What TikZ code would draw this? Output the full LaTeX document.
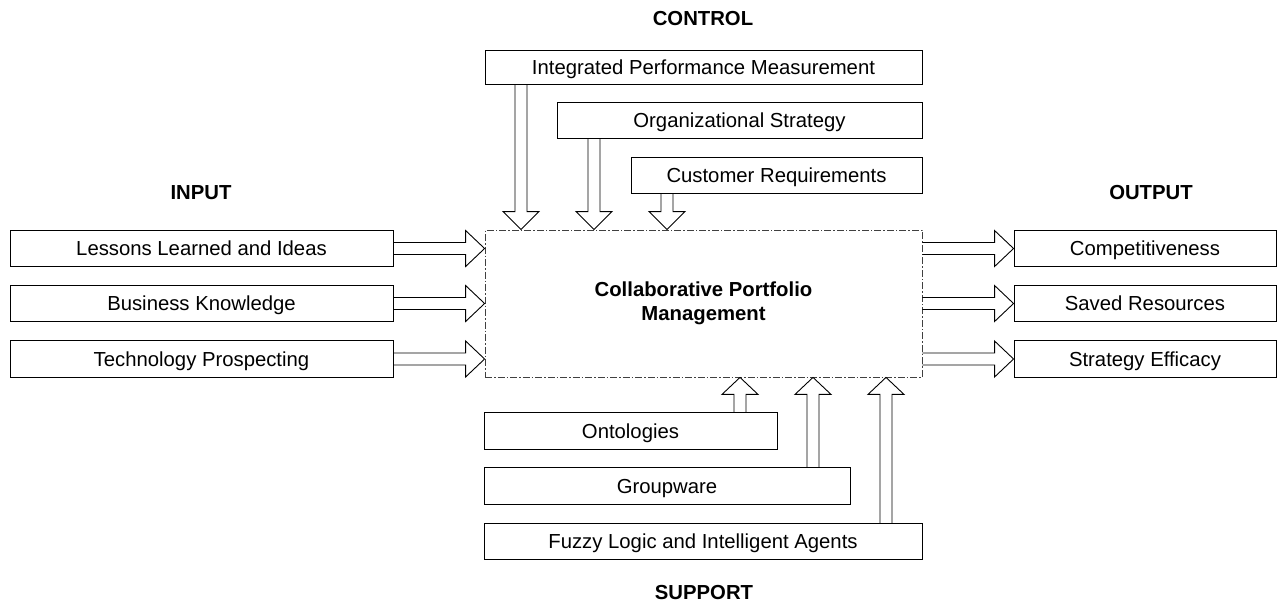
\documentclass[tikz,border=0pt]{standalone}
\usepackage{fontspec}
\setmainfont{Liberation Sans}
\usetikzlibrary{calc}

% hollow block arrows: #1 = base point, #2 = tip
\newcommand\blkright[2]{%
  \draw[blk] ($(#1)+(0,-6)$) -- ($(#2)+(-19,-6)$) -- ($(#2)+(-19,-18)$) -- (#2)
    -- ($(#2)+(-19,18)$) -- ($(#2)+(-19,6)$) -- ($(#1)+(0,6)$);}
\newcommand\blkdown[2]{%
  \draw[blk] ($(#1)+(-6,0)$) -- ($(#2)+(-6,-18)$) -- ($(#2)+(-18,-18)$) -- (#2)
    -- ($(#2)+(18,-18)$) -- ($(#2)+(6,-18)$) -- ($(#1)+(6,0)$);}
\newcommand\blkup[2]{%
  \draw[blk] ($(#1)+(-6,0)$) -- ($(#2)+(-6,17)$) -- ($(#2)+(-18,17)$) -- (#2)
    -- ($(#2)+(18,17)$) -- ($(#2)+(6,17)$) -- ($(#1)+(6,0)$);}

\begin{document}
\begin{tikzpicture}[x=1pt,y=-1pt,
  box/.style={draw, line width=0.9pt, minimum height=36.5pt, inner sep=0pt,
    text height=18pt, text depth=4pt,
    font=\fontsize{20.3}{24}\selectfont},
  blk/.style={line width=0.9pt, line join=miter},
  head/.style={font=\bfseries\fontsize{20.3}{24}\selectfont},
  core/.style={draw=black!75, line width=0.8pt,
    dash pattern=on 7pt off 2pt on 1.5pt off 2pt,
    minimum width=437pt, minimum height=147pt, inner sep=0pt,
    align=center, font=\bfseries\fontsize{20.3}{24}\selectfont}]
\useasboundingbox (0,0) rectangle (1286,606);

% central activity
\node[core] (cpm) at (703.5,303.5) {Collaborative Portfolio\\Management};

% section headings
\node[head] (hctl) at (703,19) {CONTROL};
\node[head] (hin)  at (201,193) {INPUT};
\node[head] (hout) at (1151,193) {OUTPUT};
\node[head] (hsup) at (704,593) {SUPPORT};

% inputs
\node[box, minimum width=383pt] (in1) at (201.5,248.5) {Lessons Learned and Ideas};
\node[box, minimum width=383pt] (in2) at (201.5,303.5) {Business Knowledge};
\node[box, minimum width=383pt] (in3) at (201.5,359)   {Technology Prospecting};

% outputs
\node[box, minimum width=262pt] (out1) at (1145,248.5) {Competitiveness};
\node[box, minimum width=262pt] (out2) at (1145,303.5) {Saved Resources};
\node[box, minimum width=262pt] (out3) at (1145,359)   {Strategy Efficacy};

% controls
\node[box, minimum width=437pt, minimum height=34pt] (ctl1) at (703.5,67)  {Integrated Performance Measurement};
\node[box, minimum width=365pt] (ctl2) at (739.5,120.5) {Organizational Strategy};
\node[box, minimum width=291pt] (ctl3) at (776.5,175.5) {Customer Requirements};

% supports
\node[box, minimum width=293pt] (sup1) at (630.5,431)   {Ontologies};
\node[box, minimum width=366pt] (sup2) at (667,486)     {Groupware};
\node[box, minimum width=438pt] (sup3) at (703,541.5)   {Fuzzy Logic and Intelligent Agents};

% arrow columns
\coordinate (xc1) at (521,0);
\coordinate (xc2) at (594,0);
\coordinate (xc3) at (667,0);
\coordinate (xs1) at (740,0);
\coordinate (xs2) at (813,0);
\coordinate (xs3) at (886,0);

% input arrows
\blkright{in1.east}{cpm.west |- in1.east}
\blkright{in2.east}{cpm.west |- in2.east}
\blkright{in3.east}{cpm.west |- in3.east}

% output arrows
\blkright{cpm.east |- out1.west}{out1.west}
\blkright{cpm.east |- out2.west}{out2.west}
\blkright{cpm.east |- out3.west}{out3.west}

% control arrows
\blkdown{ctl1.south -| xc1}{cpm.north -| xc1}
\blkdown{ctl2.south -| xc2}{cpm.north -| xc2}
\blkdown{ctl3.south -| xc3}{cpm.north -| xc3}

% support arrows
\blkup{sup1.north -| xs1}{cpm.south -| xs1}
\blkup{sup2.north -| xs2}{cpm.south -| xs2}
\blkup{sup3.north -| xs3}{cpm.south -| xs3}
\end{tikzpicture}
\end{document}
